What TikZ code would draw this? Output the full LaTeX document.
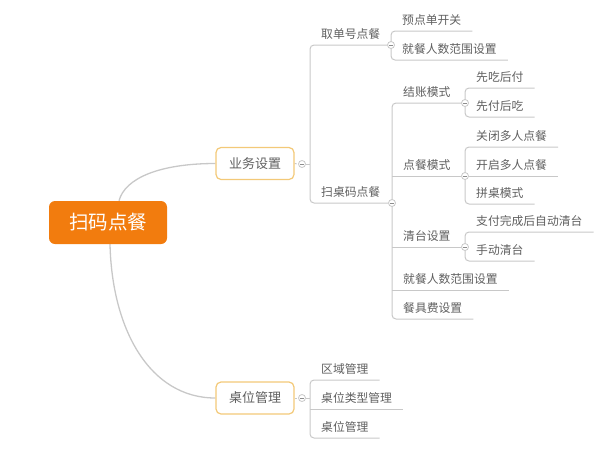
\documentclass[tikz,border=0pt]{standalone}
\usepackage{fontspec}
\setmainfont{Noto Sans CJK SC}
\usetikzlibrary{calc,backgrounds}
\definecolor{rootorange}{RGB}{242,124,14}
\definecolor{lvlborder}{RGB}{243,201,120}
\definecolor{linegray}{RGB}{200,200,200}
\definecolor{txtgray}{RGB}{95,95,95}
\begin{document}
\begin{tikzpicture}[x=1pt,y=-1pt,
  rootbox/.style={rectangle, rounded corners=6pt, fill=rootorange, minimum width=118pt, minimum height=43pt, inner sep=0pt, text=white, font=\fontsize{19.5}{20}\selectfont},
  topic/.style={rectangle, rounded corners=5pt, draw=lvlborder, line width=1.2pt, fill=white, minimum width=78pt, minimum height=32pt, inner sep=0pt, text=txtgray, font=\fontsize{13}{14}\selectfont},
  leaf/.style={anchor=south west, inner xsep=11pt, inner ysep=6.5pt, text height=10pt, text depth=0pt, text=txtgray, font=\fontsize{11.8}{12}\selectfont},
  collapse/.style={circle, draw=linegray, fill=white, minimum size=7pt, inner sep=0pt, line width=0.8pt,
    path picture={\draw[black!45, line width=0.6pt] ([xshift=-1.6pt]path picture bounding box.center) -- ([xshift=1.6pt]path picture bounding box.center);}},
  conn/.style={draw=linegray, line width=1pt},
  maincurve/.style={draw=linegray, line width=1.3pt}
]
\useasboundingbox (0,0) rectangle (610,456);

% main topics
\node[rootbox] (root) at (108,222.5) {扫码点餐};
\node[topic] (yw) at (255,163.5) {业务设置};
\node[topic] (zw) at (255,398) {桌位管理};

% collapse circles
\node[collapse] (ywc) at (302,164) {};
\node[collapse] (zwc) at (302,398) {};
\node[collapse] (qdc) at (391,45) {};
\node[collapse] (szc) at (392,203) {};
\node[collapse] (b1c) at (465,103) {};
\node[collapse] (b2c) at (465,176) {};
\node[collapse] (b3c) at (465,247) {};

% level 2 under 业务设置
\node[leaf] (qd) at (310,45) {取单号点餐};
\node[leaf] (sz) at (310,203) {扫桌码点餐};

% under 取单号点餐
\node[leaf] (a1) at (391,31) {预点单开关};
\node[leaf] (a2) at (391,60) {就餐人数范围设置};

% under 扫桌码点餐
\node[leaf] (b1) at (392,103) {结账模式};
\node[leaf] (b2) at (392,176) {点餐模式};
\node[leaf] (b3) at (392,247) {清台设置};
\node[leaf] (b4) at (392,290) {就餐人数范围设置};
\node[leaf] (b5) at (392,319) {餐具费设置};

% under 结账模式
\node[leaf] (c1) at (465,88) {先吃后付};
\node[leaf] (c2) at (465,117) {先付后吃};

% under 点餐模式
\node[leaf] (d1) at (465,147) {关闭多人点餐};
\node[leaf] (d2) at (465,176) {开启多人点餐};
\node[leaf] (d3) at (465,204) {拼桌模式};

% under 清台设置
\node[leaf] (e1) at (465,232) {支付完成后自动清台};
\node[leaf] (e2) at (465,261) {手动清台};

% under 桌位管理
\node[leaf] (f1) at (310,380) {区域管理};
\node[leaf] (f2) at (310,409) {桌位类型管理};
\node[leaf] (f3) at (310,438) {桌位管理};

\begin{scope}[on background layer]
  % root curves
  \draw[maincurve] ($(root.north)+(11,0)$) .. controls (125,178) and (160,163.5) .. (yw.west);
  \draw[maincurve] ($(root.south)+(2,0)$) .. controls (112,330) and (150,398) .. (zw.west);

  % 业务设置 branch
  \draw[conn, dash pattern=on 2pt off 1.5pt] (yw.east) -- (ywc.west);
  \draw[conn] (ywc.east) -- (ywc.east -| qd.south west);
  \draw[conn, rounded corners=4pt] (qdc.west) -- (qd.south west) -- (sz.south west) -- (szc.west);

  % 取单号点餐 children
  \draw[conn, rounded corners=4pt] (a1.south east) -- (a1.south west) -- (a2.south west) -- (a2.south east);

  % 扫桌码点餐 children
  \draw[conn, rounded corners=4pt] (b1c.west) -- (b1.south west) -- (b5.south west) -- (b5.south east);
  \draw[conn] (b2.south west) -- (b2c.west);
  \draw[conn] (b3.south west) -- (b3c.west);
  \draw[conn] (b4.south west) -- (b4.south east);

  % 结账模式 children
  \draw[conn, rounded corners=4pt] (c1.south east) -- (c1.south west) -- (c2.south west) -- (c2.south east);

  % 点餐模式 children
  \draw[conn, rounded corners=4pt] (d1.south east) -- (d1.south west) -- (d3.south west) -- (d3.south east);
  \draw[conn] (d2.south west) -- (d2.south east);

  % 清台设置 children
  \draw[conn, rounded corners=4pt] (e1.south east) -- (e1.south west) -- (e2.south west) -- (e2.south east);

  % 桌位管理 branch
  \draw[conn, dash pattern=on 2pt off 1.5pt] (zw.east) -- (zwc.west);
  \draw[conn] (zwc.east) -- (zwc.east -| f1.south west);
  \draw[conn, rounded corners=4pt] (f1.south east) -- (f1.south west) -- (f3.south west) -- (f3.south east);
  \draw[conn] (f2.south west) -- (f2.south east);
\end{scope}
\end{tikzpicture}
\end{document}
